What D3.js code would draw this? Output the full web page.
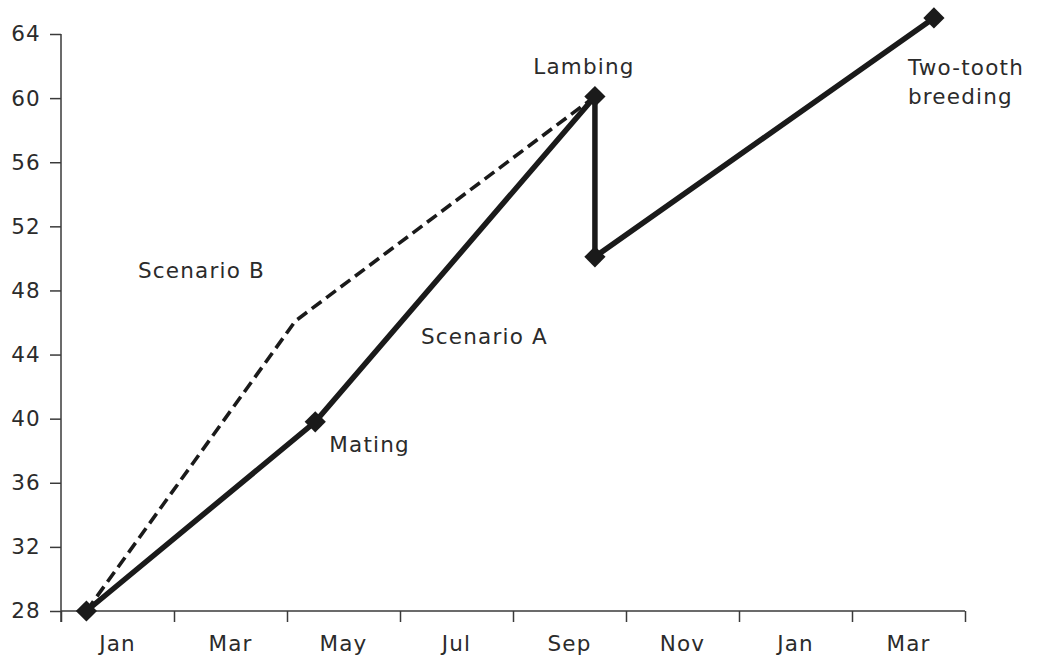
<!DOCTYPE html>
<html>
<head>
<meta charset="utf-8">
<script src="https://cdn.jsdelivr.net/npm/d3@7"></script>
<style>
  html, body { margin: 0; padding: 0; background: #fff; }
  svg text { font-family: "DejaVu Sans", sans-serif; fill: #2b2b2b; }
</style>
</head>
<body>
<svg id="chart" width="1041" height="664"></svg>
<script>
// Month labels (each band spans two months)
const categories = ["Jan", "Mar", "May", "Jul", "Sep", "Nov", "Jan", "Mar"];
const yTicks = [28, 32, 36, 40, 44, 48, 52, 56, 60, 64];

// Positions along the time axis measured in months from start
const scenarioAMonths = [0.45, 4.5, 9.45, 9.45, 15.45];
const scenarioAValues = [28, 39.8, 60.1, 50.1, 65];
const scenarioBMonths = [0.45, 4.15, 9.45];
const scenarioBValues = [28, 46.1, 60.1];

const svg = d3.select("#chart");
const x0 = 61, x1 = 965, yTop = 34, yBot = 611;
const FS = 21.5, LS = 1.2;

const nMonths = categories.length * 2;
const x = d3.scaleLinear().domain([0, nMonths]).range([x0, x1]);
const y = d3.scaleLinear().domain([28, 64]).range([yBot, yTop]);

// Y axis
const yAxis = d3.axisLeft(y).tickValues(yTicks).tickSize(11).tickPadding(9);
const gy = svg.append("g").attr("transform", `translate(${x0},0)`).call(yAxis);
gy.select(".domain").attr("d", `M0,${yTop}V${yBot + 11}`);

// X axis: ticks at band boundaries, labels at centers
const xAxis = d3.axisBottom(x)
  .tickValues(d3.range(0, nMonths + 1, 2))
  .tickSize(11)
  .tickFormat("");
const gx = svg.append("g").attr("transform", `translate(0,${yBot})`).call(xAxis);
gx.select(".domain").attr("d", `M${x0},0H${x1}`);

svg.append("g").selectAll("text")
  .data(categories)
  .join("text")
  .attr("x", (d, i) => x(i * 2 + 1))
  .attr("y", yBot + 40)
  .attr("text-anchor", "middle")
  .attr("font-size", FS)
  .attr("letter-spacing", LS)
  .text(d => d);

[gx, gy].forEach(g => {
  g.selectAll(".domain, .tick line").attr("stroke", "#3a3a3a").attr("stroke-width", 1.5);
});
gy.selectAll(".tick text")
  .attr("font-size", FS)
  .attr("letter-spacing", LS)
  .attr("fill", "#2b2b2b")
  .style("font-family", '"DejaVu Sans", sans-serif');

const line = d3.line().x(d => x(d[0])).y(d => y(d[1]));
const dataA = scenarioAMonths.map((m, i) => [m, scenarioAValues[i]]);
const dataB = scenarioBMonths.map((m, i) => [m, scenarioBValues[i]]);

svg.append("path")
  .datum(dataB)
  .attr("d", line)
  .attr("fill", "none")
  .attr("stroke", "#1a1a1a")
  .attr("stroke-width", 3.6)
  .attr("stroke-dasharray", "12,6");

svg.append("path")
  .datum(dataA)
  .attr("d", line)
  .attr("fill", "none")
  .attr("stroke", "#1a1a1a")
  .attr("stroke-width", 5.5)
  .attr("stroke-linejoin", "miter");

svg.append("g").selectAll("path")
  .data(dataA)
  .join("path")
  .attr("d", d3.symbol(d3.symbolSquare, 225))
  .attr("transform", d => `translate(${x(d[0])},${y(d[1])}) rotate(45)`)
  .attr("fill", "#1a1a1a");

// Annotations
const lab = svg.append("g").attr("font-size", FS).attr("letter-spacing", LS);
lab.append("text").attr("x", x(9.45) - 11).attr("y", y(60.1) - 23).attr("text-anchor", "middle").text("Lambing");
lab.append("text").attr("x", x(4.5) + 14).attr("y", y(39.8) + 30).text("Mating");
lab.append("text").attr("x", 421).attr("y", 344).text("Scenario A");
lab.append("text").attr("x", 138).attr("y", 278).text("Scenario B");
const tt = lab.append("text").attr("y", y(65) + 57);
tt.append("tspan").attr("x", x(15.45) - 26).attr("dy", 0).text("Two-tooth");
tt.append("tspan").attr("x", x(15.45) - 26).attr("dy", 29).text("breeding");
</script>
</body>
</html>
